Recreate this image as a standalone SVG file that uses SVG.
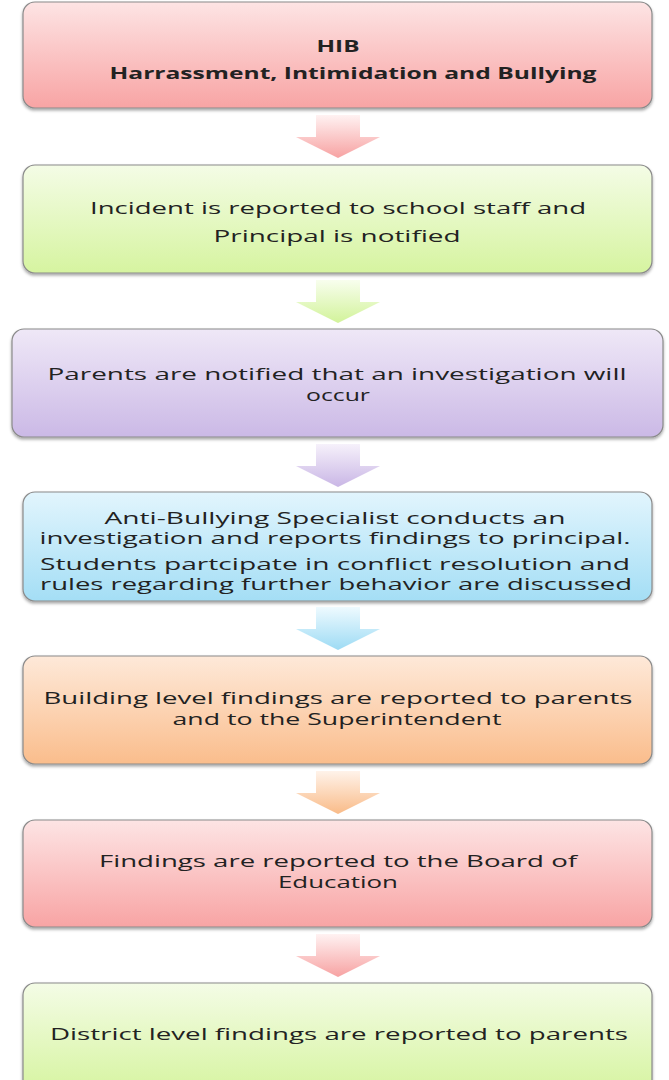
<svg xmlns="http://www.w3.org/2000/svg" width="669" height="1080" viewBox="0 0 669 1080">
<defs>
<linearGradient id="gPink" x1="0" y1="0" x2="0" y2="1"><stop offset="0" stop-color="#fde4e4"/><stop offset="1" stop-color="#f8a4a4"/></linearGradient>
<linearGradient id="gGreen" x1="0" y1="0" x2="0" y2="1"><stop offset="0" stop-color="#f4fce6"/><stop offset="1" stop-color="#d6f4a0"/></linearGradient>
<linearGradient id="gPurple" x1="0" y1="0" x2="0" y2="1"><stop offset="0" stop-color="#efe8f7"/><stop offset="1" stop-color="#cbb9e6"/></linearGradient>
<linearGradient id="gBlue" x1="0" y1="0" x2="0" y2="1"><stop offset="0" stop-color="#e2f5fd"/><stop offset="1" stop-color="#a4def5"/></linearGradient>
<linearGradient id="gOrange" x1="0" y1="0" x2="0" y2="1"><stop offset="0" stop-color="#fee9d9"/><stop offset="1" stop-color="#fabd8c"/></linearGradient>
<linearGradient id="aPink" x1="0" y1="0" x2="0" y2="1"><stop offset="0" stop-color="#fff2f2"/><stop offset="1" stop-color="#f7a2a2"/></linearGradient>
<linearGradient id="aGreen" x1="0" y1="0" x2="0" y2="1"><stop offset="0" stop-color="#f8feee"/><stop offset="1" stop-color="#d2f39a"/></linearGradient>
<linearGradient id="aPurple" x1="0" y1="0" x2="0" y2="1"><stop offset="0" stop-color="#f6f1fb"/><stop offset="1" stop-color="#c9b6e5"/></linearGradient>
<linearGradient id="aBlue" x1="0" y1="0" x2="0" y2="1"><stop offset="0" stop-color="#eefaff"/><stop offset="1" stop-color="#9ddbf4"/></linearGradient>
<linearGradient id="aOrange" x1="0" y1="0" x2="0" y2="1"><stop offset="0" stop-color="#fff3ea"/><stop offset="1" stop-color="#f9bb88"/></linearGradient>
<filter id="sh" x="-5%" y="-10%" width="110%" height="130%"><feDropShadow dx="0" dy="2" stdDeviation="1.5" flood-color="#000" flood-opacity="0.35"/></filter>
<path id="arrow" d="M20 0 H64 V22 H84 L42 43 L0 22 H20 Z"/>
</defs>
<style>
.box{stroke:#8a8a8a;stroke-width:1.2;filter:url(#sh)}
.t{font-family:"Open Sans","Liberation Sans",sans-serif;font-size:15.5px;fill:#222;text-anchor:middle}
.b{font-weight:bold;font-size:15.5px}
</style>
<rect width="669" height="1080" fill="#ffffff"/>
<g id="connectors">
<use href="#arrow" x="296" y="115" fill="url(#aPink)"/>
<use href="#arrow" x="296" y="280" fill="url(#aGreen)"/>
<use href="#arrow" x="296" y="444" fill="url(#aPurple)"/>
<use href="#arrow" x="296" y="607" fill="url(#aBlue)"/>
<use href="#arrow" x="296" y="771" fill="url(#aOrange)"/>
<use href="#arrow" x="296" y="934" fill="url(#aPink)"/>
</g>
<g id="n1">
<rect class="box" x="23" y="2" width="629" height="106" rx="12" fill="url(#gPink)"/>
<text class="t b" x="338" y="52" textLength="43" lengthAdjust="spacingAndGlyphs">HIB</text>
<text class="t b" x="353" y="79" textLength="487" lengthAdjust="spacingAndGlyphs">Harrassment, Intimidation and Bullying</text>
</g>
<g id="n2">
<rect class="box" x="23" y="165" width="629" height="108" rx="12" fill="url(#gGreen)"/>
<text class="t" x="338" y="214" textLength="496" lengthAdjust="spacingAndGlyphs">Incident is reported to school staff and</text>
<text class="t" x="337" y="242" textLength="247" lengthAdjust="spacingAndGlyphs">Principal is notified</text>
</g>
<g id="n3">
<rect class="box" x="12" y="329" width="651" height="108" rx="12" fill="url(#gPurple)"/>
<text class="t" x="337" y="380" textLength="579" lengthAdjust="spacingAndGlyphs">Parents are notified that an investigation will</text>
<text class="t" x="338" y="401" textLength="64" lengthAdjust="spacingAndGlyphs">occur</text>
</g>
<g id="n4">
<rect class="box" x="23" y="492" width="629" height="109" rx="12" fill="url(#gBlue)"/>
<text class="t" x="335" y="524" textLength="461" lengthAdjust="spacingAndGlyphs">Anti-Bullying Specialist conducts an</text>
<text class="t" x="335" y="544" textLength="591" lengthAdjust="spacingAndGlyphs">investigation and reports findings to principal.</text>
<text class="t" x="335" y="570" textLength="590" lengthAdjust="spacingAndGlyphs">Students partcipate in conflict resolution and</text>
<text class="t" x="336" y="590" textLength="592" lengthAdjust="spacingAndGlyphs">rules regarding further behavior are discussed</text>
</g>
<g id="n5">
<rect class="box" x="23" y="656" width="629" height="108" rx="12" fill="url(#gOrange)"/>
<text class="t" x="338" y="704" textLength="589" lengthAdjust="spacingAndGlyphs">Building level findings are reported to parents</text>
<text class="t" x="337" y="725" textLength="329" lengthAdjust="spacingAndGlyphs">and to the Superintendent</text>
</g>
<g id="n6">
<rect class="box" x="23" y="820" width="629" height="107" rx="12" fill="url(#gPink)"/>
<text class="t" x="338" y="867" textLength="478" lengthAdjust="spacingAndGlyphs">Findings are reported to the Board of</text>
<text class="t" x="338" y="888" textLength="120" lengthAdjust="spacingAndGlyphs">Education</text>
</g>
<g id="n7">
<rect class="box" x="23" y="983" width="629" height="110" rx="12" fill="url(#gGreen)"/>
<text class="t" x="339" y="1040" textLength="578" lengthAdjust="spacingAndGlyphs">District level findings are reported to parents</text>
</g>
</svg>
